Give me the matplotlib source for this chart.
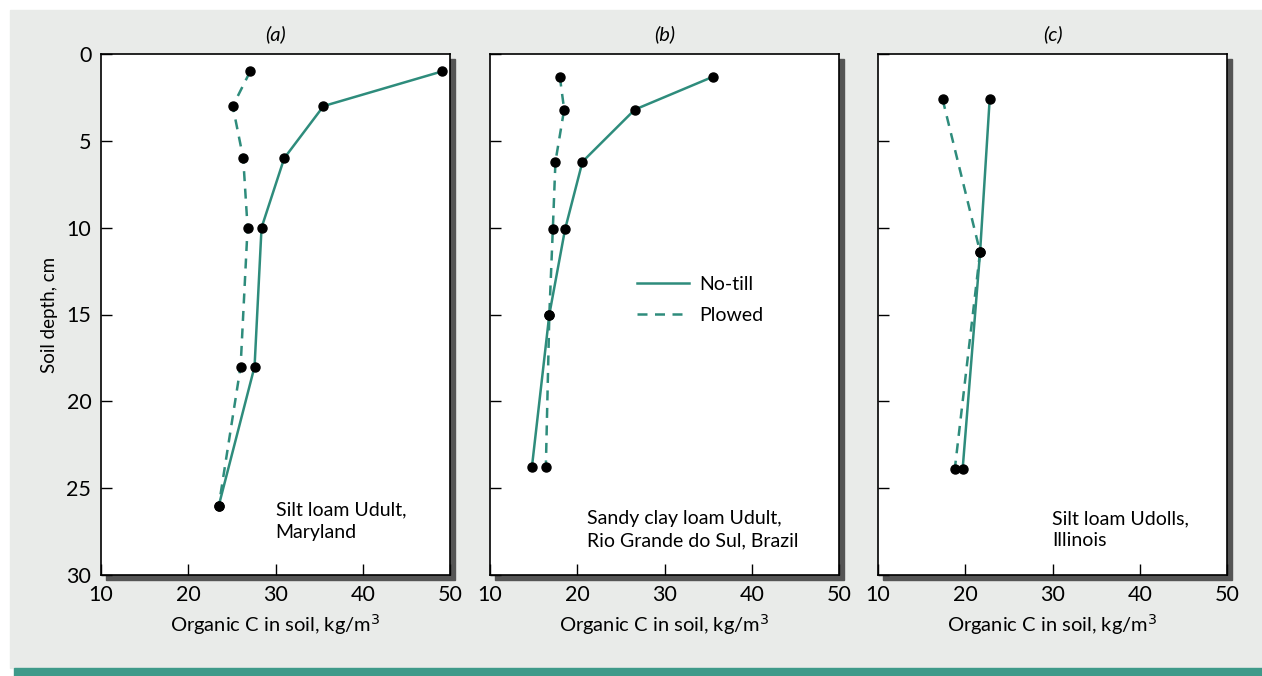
import matplotlib.pyplot as plt
from matplotlib.patches import Rectangle

# organic C (kg/m3) vs soil depth (cm)
a_notill_c = [49.1, 35.5, 31.0, 28.4, 27.6, 23.5]
a_notill_d = [1.0, 3.0, 6.0, 10.0, 18.0, 26.0]
a_plowed_c = [27.1, 25.1, 26.3, 26.8, 26.0, 23.5]
a_plowed_d = [1.0, 3.0, 6.0, 10.0, 18.0, 26.0]

b_notill_c = [35.6, 26.6, 20.6, 18.6, 16.8, 14.8]
b_notill_d = [1.3, 3.2, 6.2, 10.1, 15.0, 23.8]
b_plowed_c = [18.0, 18.5, 17.5, 17.2, 16.8, 16.4]
b_plowed_d = [1.3, 3.2, 6.2, 10.1, 15.0, 23.8]

c_notill_c = [22.8, 21.7, 19.7]
c_notill_d = [2.6, 11.4, 23.9]
c_plowed_c = [17.4, 21.7, 18.8]
c_plowed_d = [2.6, 11.4, 23.9]

panel_tags = ['(a)', '(b)', '(c)']
soil_notes = ['Silt loam Udult,\nMaryland',
              'Sandy clay loam Udult,\nRio Grande do Sul, Brazil',
              'Silt loam Udolls,\nIllinois']
note_x = [30.0, 21.1, 30.0]
note_y = [26.9, 27.4, 27.4]
x_ticks = [10, 20, 30, 40, 50]
y_ticks = [0, 5, 10, 15, 20, 25, 30]

TEAL = '#2e8c7c'
plt.rcParams['font.family'] = ['Lato', 'DejaVu Sans']


def draw_panel(fig, left, tag, notill, plowed, note, npos, first):
    """One soil profile panel with its drop shadow"""
    bottom, width, height = 1 - 575 / 676, 349 / 1262, 521 / 676
    dx, dy = 5 / 1262, 5 / 676
    fig.patches.append(Rectangle((left + dx, bottom - dy), width, height,
                                 transform=fig.transFigure, color='#555555',
                                 zorder=-0.5))
    ax = fig.add_axes([left, bottom, width, height])
    ax.set_zorder(1)
    ax.set_facecolor('white')
    ax.plot(notill[0], notill[1], color=TEAL, lw=1.8, label='No-till')
    ax.plot(plowed[0], plowed[1], color=TEAL, lw=1.8, ls=(0, (4, 3)),
            label='Plowed')
    ax.plot(notill[0], notill[1], 'o', color='black', ms=6.5, zorder=3)
    ax.plot(plowed[0], plowed[1], 'o', color='black', ms=6.5, zorder=3)
    ax.set_xlim(10, 50)
    ax.set_ylim(30, 0)
    ax.set_xticks(x_ticks)
    ax.set_yticks(y_ticks)
    ax.tick_params(direction='in', length=8, width=1, labelsize=15.5,
                   pad=7)
    if first:
        ax.set_ylabel('Soil depth, cm', fontsize=13.5, labelpad=6)
    else:
        ax.tick_params(axis='y', labelleft=False)
    ax.set_xlabel('Organic C in soil, kg/m$^3$', fontsize=14.5, labelpad=5)
    for s in ax.spines.values():
        s.set_linewidth(1.2)
    ax.set_title(tag, fontsize=14.5, style='italic', pad=10)
    ax.text(npos[0], npos[1], note, fontsize=14, va='center', ha='left',
            linespacing=1.35)
    return ax


def main():
    fig = plt.figure(figsize=(12.62, 6.76), dpi=100)
    fig.patch.set_facecolor('white')
    fig.patches.append(Rectangle((10 / 1262, 8 / 676), 1, 658 / 676,
                                 transform=fig.transFigure,
                                 color='#e9ebe9', zorder=-1))
    fig.patches.append(Rectangle((14 / 1262, 0), 1, 8 / 676,
                                 transform=fig.transFigure,
                                 color='#3f9a8a', zorder=-1))

    data = [(a_notill_c, a_notill_d, a_plowed_c, a_plowed_d),
            (b_notill_c, b_notill_d, b_plowed_c, b_plowed_d),
            (c_notill_c, c_notill_d, c_plowed_c, c_plowed_d)]
    lefts = [101 / 1262, 490 / 1262, 878 / 1262]
    for i in range(3):
        nc, nd, pc, pd = data[i]
        ax = draw_panel(fig, lefts[i], panel_tags[i], (nc, nd), (pc, pd),
                        soil_notes[i], (note_x[i], note_y[i]), i == 0)
        if i == 1:
            ax.legend(loc='center left', bbox_to_anchor=(0.421, 0.528),
                      frameon=False, fontsize=14, handlelength=2.7,
                      handletextpad=0.5, labelspacing=0.75,
                      borderpad=0, borderaxespad=0)

    fig.savefig('out.png', dpi=100)


if (__name__ == "__main__"):
    main()
